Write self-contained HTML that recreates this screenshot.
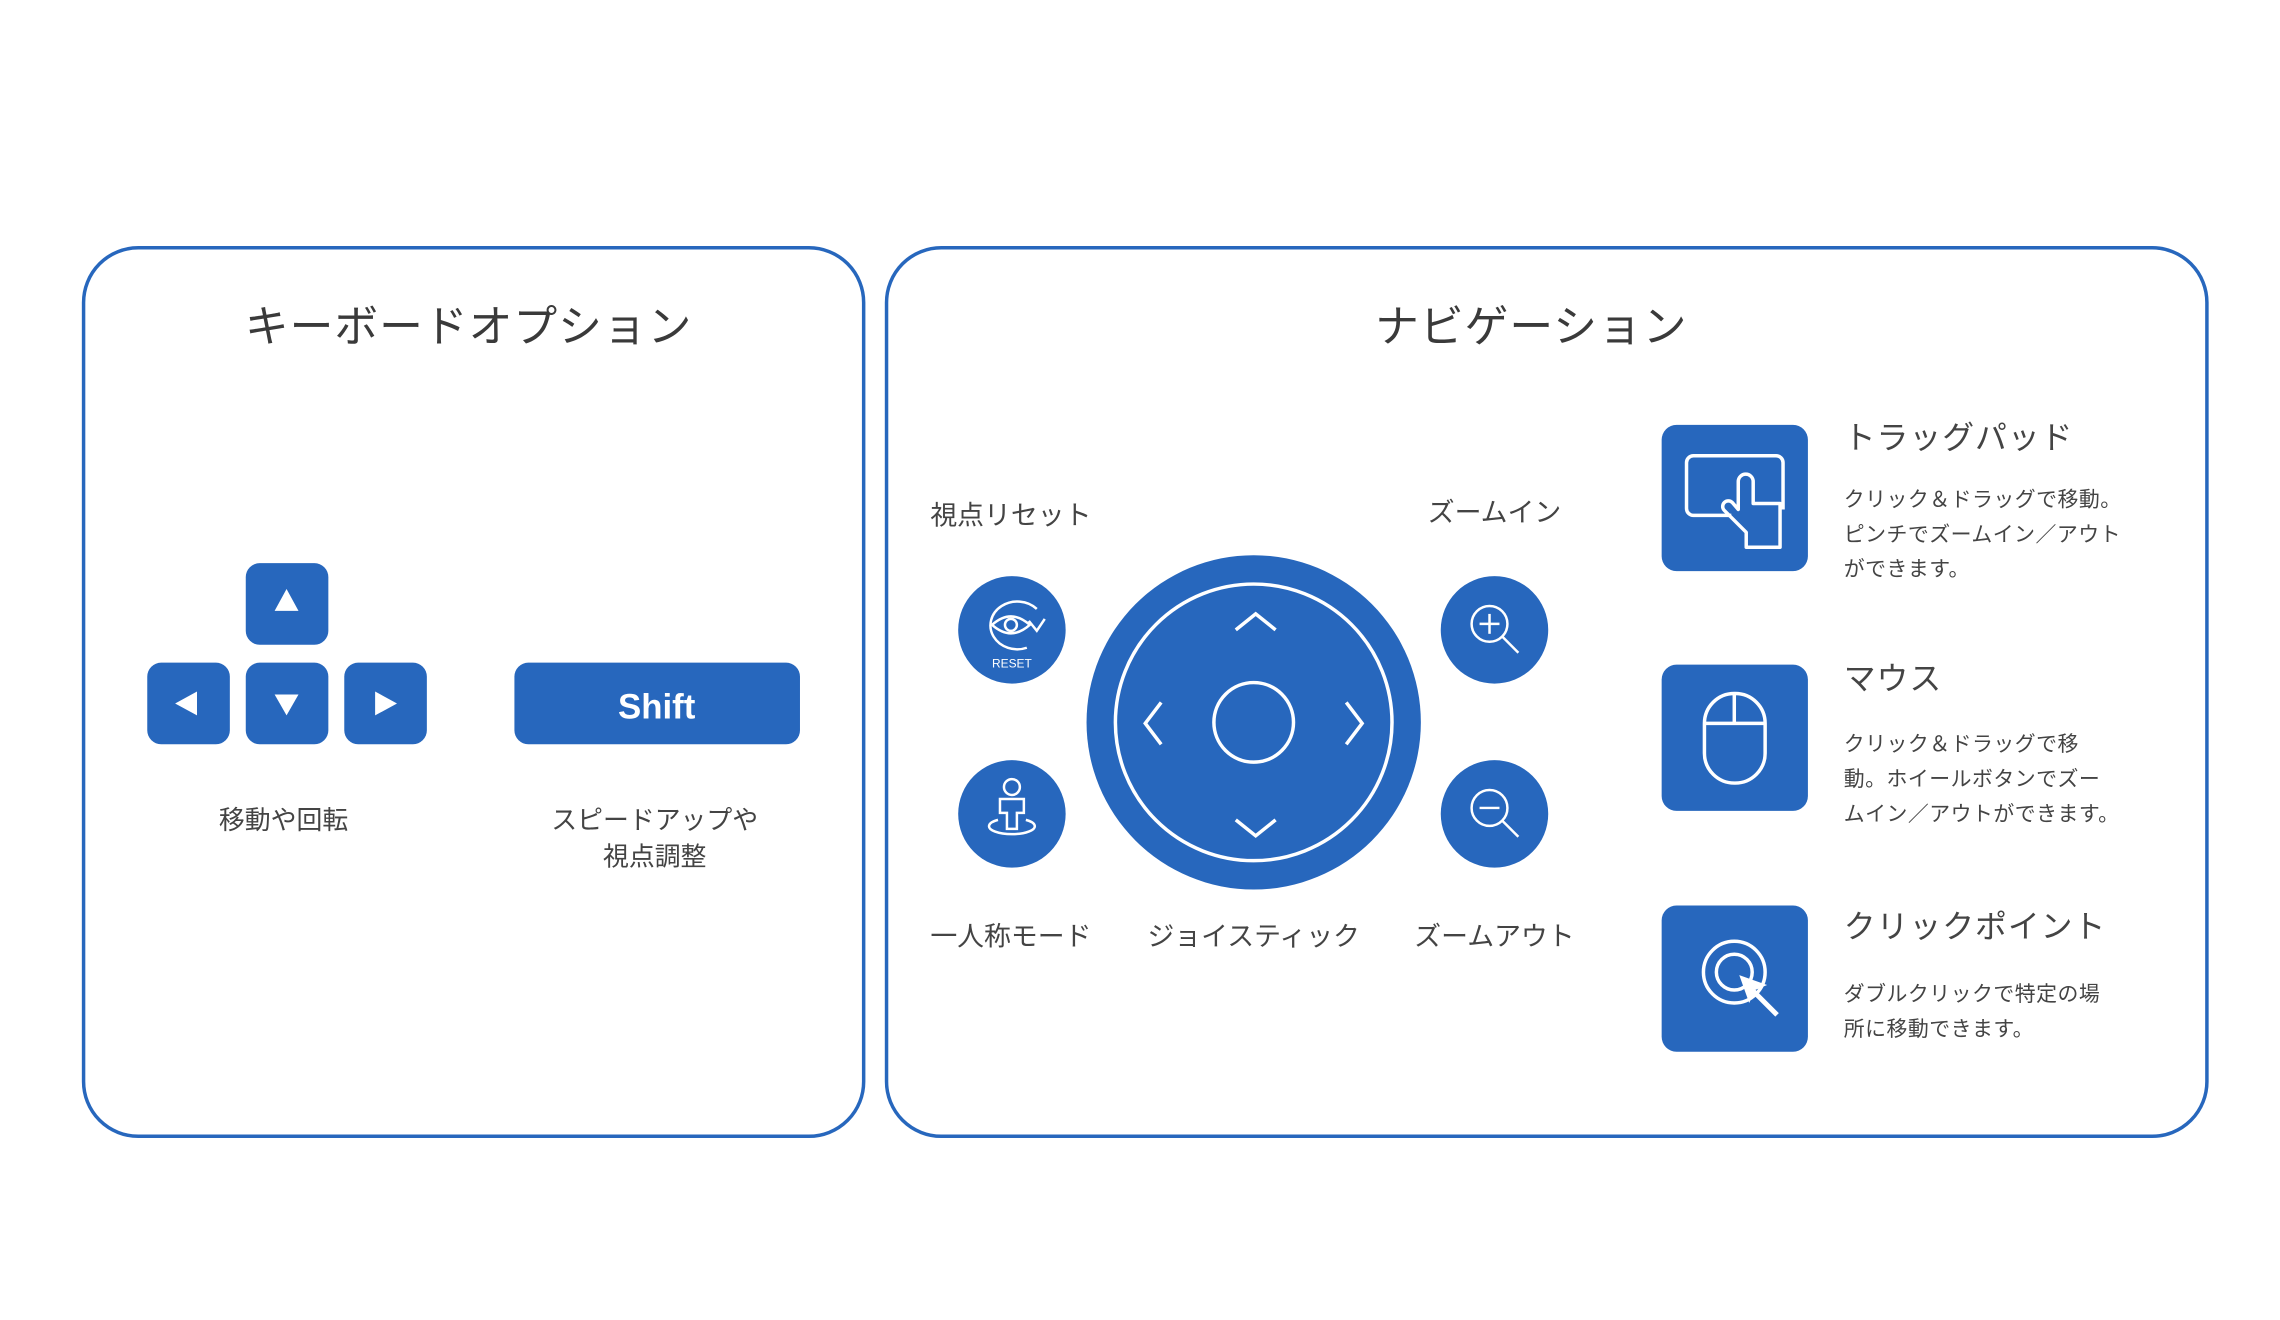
<!DOCTYPE html>
<html><head><meta charset="utf-8"><style>
html,body{margin:0;padding:0;background:#fff;}
svg{display:block;}
text{font-family:"Liberation Sans","Noto Sans CJK JP",sans-serif;}
</style></head><body>
<svg width="2280" height="1320" viewBox="0 0 2280 1320" xmlns="http://www.w3.org/2000/svg">
<rect width="2280" height="1320" fill="#fff"/>
<g transform="scale(0.995)">
<!-- panels -->
<rect x="84" y="249" width="784" height="893" rx="55" fill="none" stroke="#2767bd" stroke-width="3.5"/>
<rect x="891" y="249" width="1327" height="893" rx="55" fill="none" stroke="#2767bd" stroke-width="3.5"/>

<!-- left panel -->
<text x="471" y="343" font-size="44" fill="#3a3a3a" text-anchor="middle" letter-spacing="1">キーボードオプション</text>
<g fill="#2767bd">
<rect x="247" y="566" width="83" height="82" rx="14"/>
<rect x="148" y="666" width="83" height="82" rx="14"/>
<rect x="247" y="666" width="83" height="82" rx="14"/>
<rect x="346" y="666" width="83" height="82" rx="14"/>
<rect x="517" y="666" width="287" height="82" rx="14"/>
</g>
<g fill="#fff">
<polygon points="288,592 276,614 300,614"/>
<polygon points="276,698 300,698 288,719"/>
<polygon points="176,707 198,695 198,719"/>
<polygon points="399,707 377,695 377,719"/>
</g>
<text x="660" y="722" font-size="35" font-weight="bold" fill="#fff" text-anchor="middle">Shift</text>
<text x="285" y="833" font-size="26" fill="#444" text-anchor="middle">移動や回転</text>
<text x="658" y="833" font-size="26" fill="#444" text-anchor="middle">スピードアップや</text>
<text x="658" y="870" font-size="26" fill="#444" text-anchor="middle">視点調整</text>

<!-- right panel -->
<text x="1539" y="343" font-size="44" fill="#3a3a3a" text-anchor="middle" letter-spacing="1">ナビゲーション</text>

<text x="1016" y="527" font-size="27" fill="#444" text-anchor="middle">視点リセット</text>
<text x="1502" y="524" font-size="27" fill="#444" text-anchor="middle">ズームイン</text>
<text x="1016" y="950" font-size="27" fill="#444" text-anchor="middle">一人称モード</text>
<text x="1260" y="950" font-size="27" fill="#444" text-anchor="middle">ジョイスティック</text>
<text x="1502" y="950" font-size="27" fill="#444" text-anchor="middle">ズームアウト</text>

<!-- joystick -->
<circle cx="1260" cy="726" r="168" fill="#2767bd"/>
<g fill="none" stroke="#fff" stroke-width="3.5">
<circle cx="1260" cy="726" r="139"/>
<circle cx="1260" cy="726" r="40"/>
<polyline points="1242,633 1262,617 1282,633"/>
<polyline points="1242,824 1262,840 1282,824"/>
<polyline points="1167,706 1151,727 1167,748"/>
<polyline points="1353,706 1369,727 1353,748"/>
</g>

<!-- small circles -->
<g fill="#2767bd">
<circle cx="1017" cy="633" r="54"/>
<circle cx="1017" cy="818" r="54"/>
<circle cx="1502" cy="633" r="54"/>
<circle cx="1502" cy="818" r="54"/>
</g>
<g fill="none" stroke="#fff" stroke-width="2.5">
<path d="M1042,612 A27,24 0 1 0 1032,651"/>
<polyline points="1034,624 1042,634 1050,622"/>
<path d="M997,628 Q1016,611 1035,628 Q1016,645 997,628 Z"/>
<circle cx="1016" cy="628" r="6"/>
<circle cx="1017" cy="791" r="8"/>
<path d="M1005,803 h24 v14 h-7 v16 h-10 v-16 h-7 z"/>
<path d="M1003,824 A23,8 0 1 0 1031,824"/>
<circle cx="1497" cy="627" r="18"/>
<line x1="1510" y1="640" x2="1526" y2="656"/>
<line x1="1487" y1="627" x2="1507" y2="627"/>
<line x1="1497" y1="617" x2="1497" y2="637"/>
<circle cx="1497" cy="812" r="18"/>
<line x1="1510" y1="825" x2="1526" y2="841"/>
<line x1="1487" y1="812" x2="1507" y2="812"/>
</g>
<text x="1017" y="671" font-size="12" fill="#fff" text-anchor="middle">RESET</text>

<!-- right items -->
<g fill="#2767bd">
<rect x="1670" y="427" width="147" height="147" rx="15"/>
<rect x="1670" y="668" width="147" height="147" rx="15"/>
<rect x="1670" y="910" width="147" height="147" rx="15"/>
</g>
<g fill="none" stroke="#fff" stroke-width="3.5" stroke-linejoin="round">
<path d="M1740,518 H1702 a7,7 0 0 1 -7,-7 V465 a7,7 0 0 1 7,-7 H1785 a7,7 0 0 1 7,7 V512"/>
<path d="M1747,512 V484 a7.5,7.5 0 0 1 15,0 V506 H1789 V550 H1755 V535 L1733,513 a5,5 0 0 1 8,-8 z"/>
<rect x="1713" y="697" width="61" height="90" rx="30"/>
<line x1="1713" y1="727" x2="1774" y2="727"/>
<line x1="1743" y1="697" x2="1743" y2="727"/>
<circle cx="1743" cy="977" r="31"/>
<circle cx="1743" cy="977" r="18"/>
<line x1="1762" y1="996" x2="1786" y2="1020" stroke-width="5"/>
</g>
<polygon points="1748,980 1776,990 1764,995 1758,1008" fill="#fff"/>

<g fill="#444">
<text x="1853" y="451" font-size="32" letter-spacing="1">トラッグパッド</text>
<text x="1853" y="509" font-size="21" letter-spacing="0.5">クリック＆ドラッグで移動。</text>
<text x="1853" y="544" font-size="21" letter-spacing="0.5">ピンチでズームイン／アウト</text>
<text x="1853" y="579" font-size="21" letter-spacing="0.5">ができます。</text>
<text x="1853" y="693" font-size="32" letter-spacing="1">マウス</text>
<text x="1853" y="755" font-size="21" letter-spacing="0.5">クリック＆ドラッグで移</text>
<text x="1853" y="790" font-size="21" letter-spacing="0.5">動。ホイールボタンでズー</text>
<text x="1853" y="825" font-size="21" letter-spacing="0.5">ムイン／アウトができます。</text>
<text x="1853" y="942" font-size="32" letter-spacing="1">クリックポイント</text>
<text x="1853" y="1006" font-size="21" letter-spacing="0.5">ダブルクリックで特定の場</text>
<text x="1853" y="1041" font-size="21" letter-spacing="0.5">所に移動できます。</text>
</g>
</g>
</svg>
</body></html>
